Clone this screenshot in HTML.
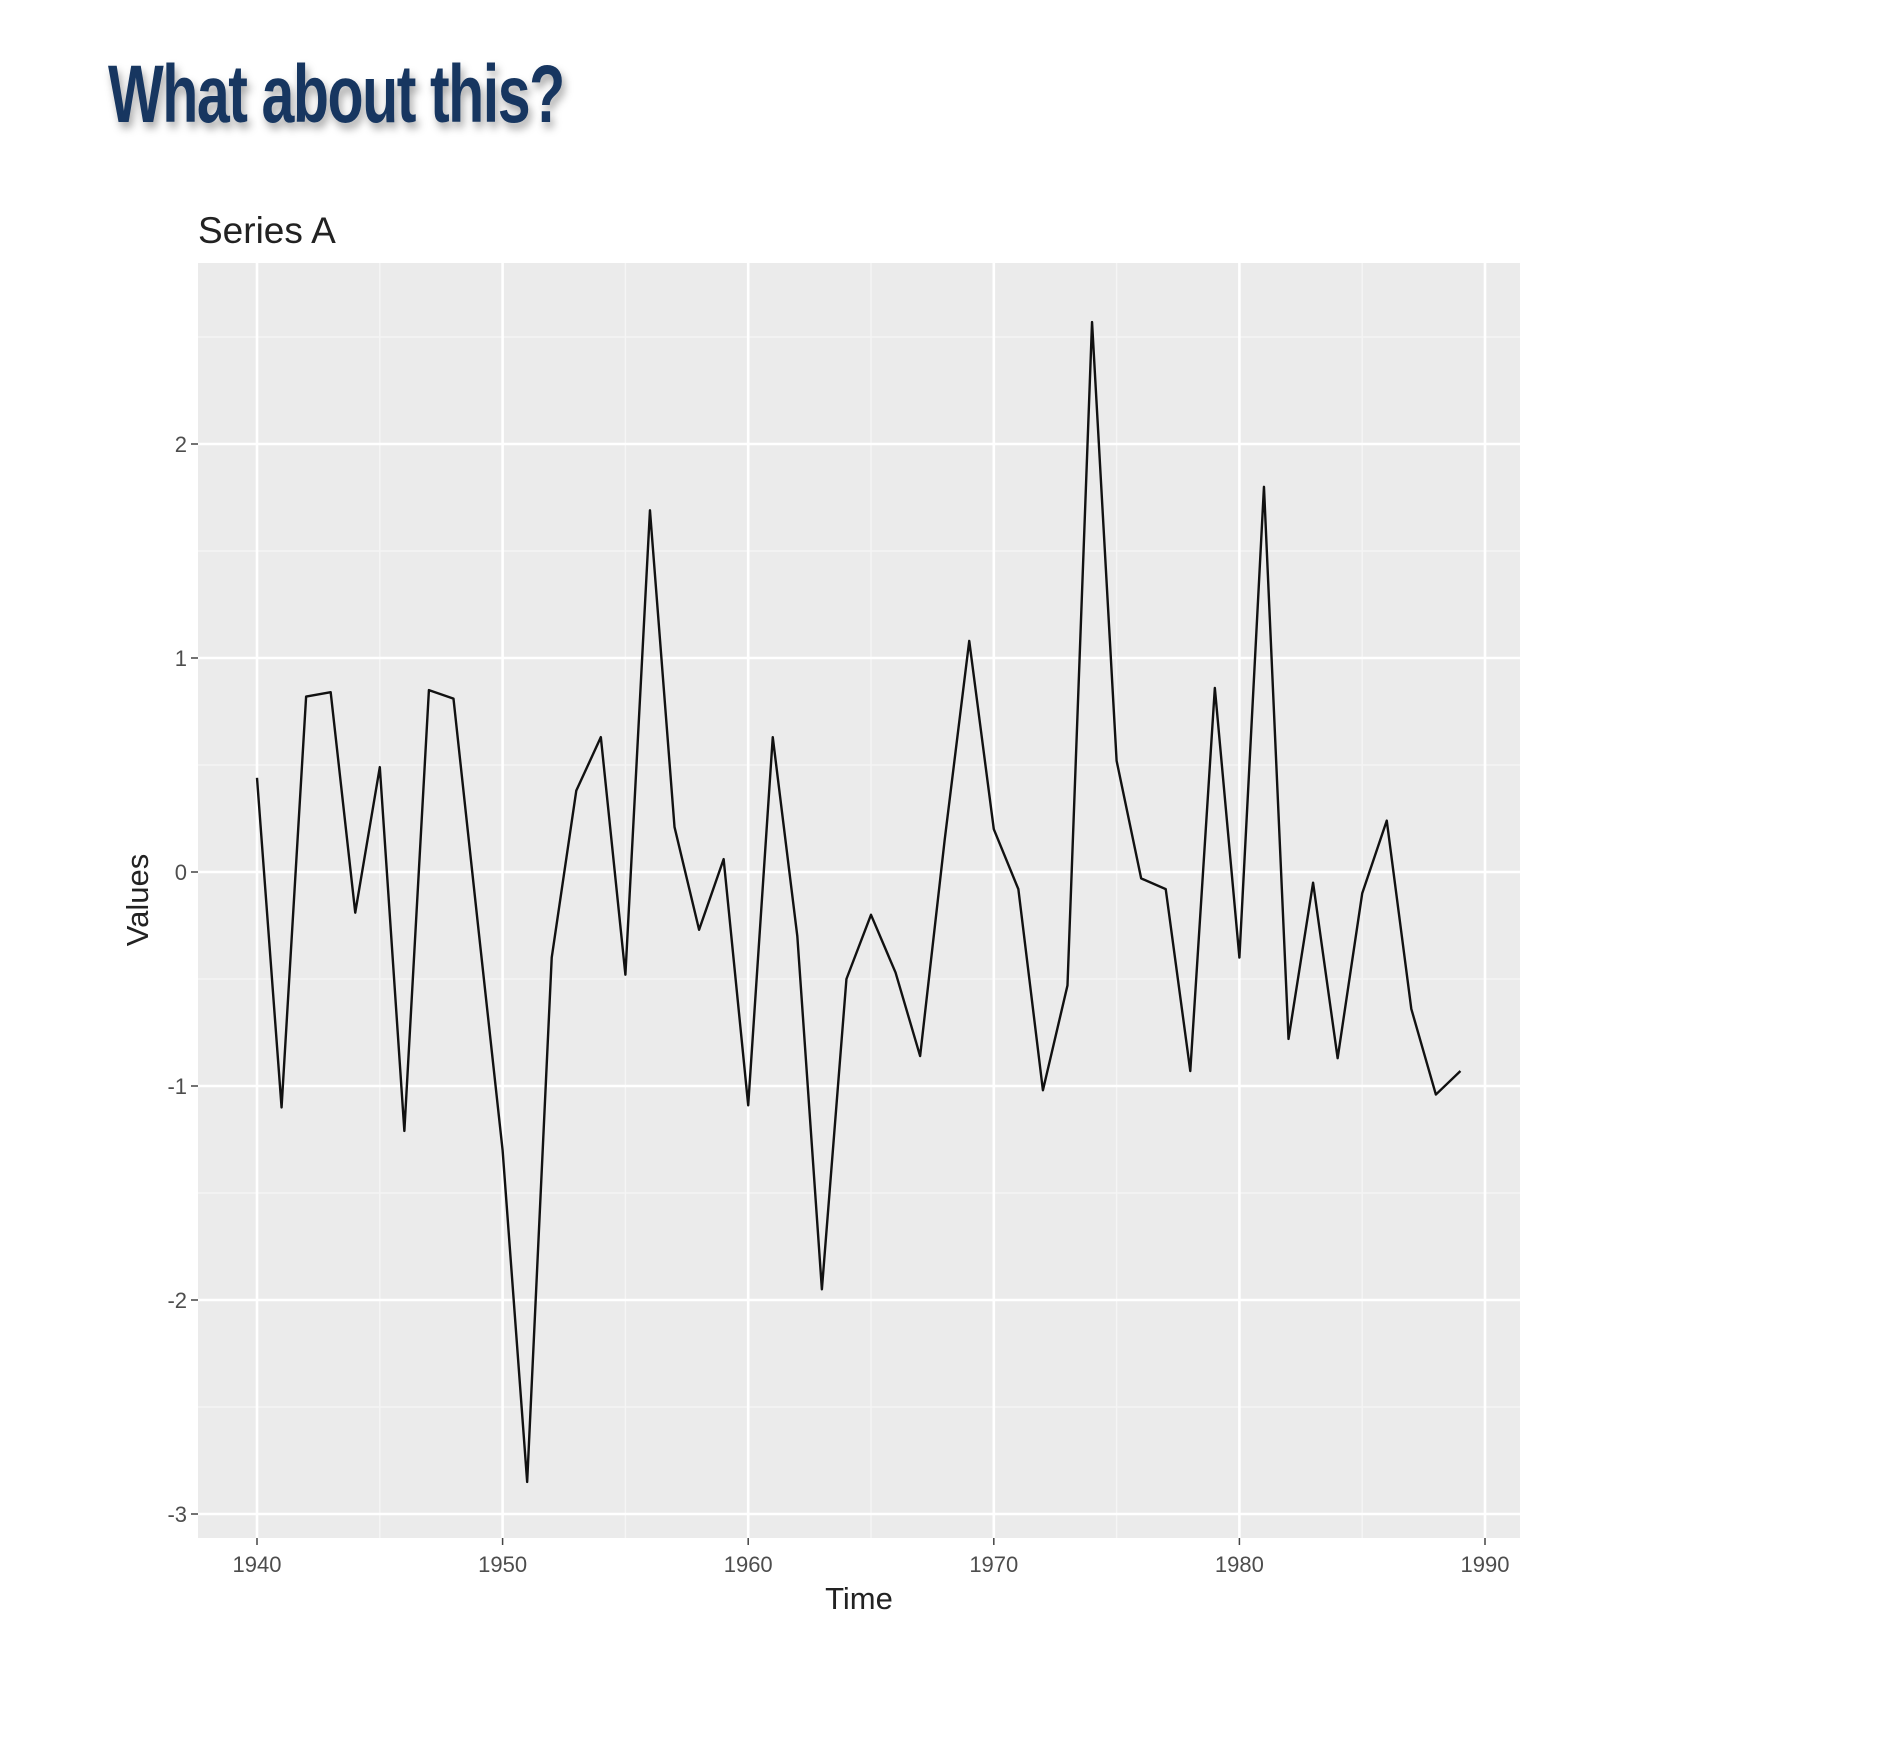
<!DOCTYPE html>
<html><head><meta charset="utf-8"><style>
body{margin:0;background:#fff;width:1877px;height:1737px;overflow:hidden;}
#hdr{position:absolute;left:108px;top:48px;font-family:"Liberation Sans Narrow","Liberation Sans",sans-serif;font-weight:bold;font-size:82px;color:#173660;letter-spacing:-2px;text-shadow:4px 6px 10px rgba(0,0,0,0.35);transform:scaleX(0.72);transform-origin:left top;white-space:nowrap;}
</style></head><body>
<div id="hdr">What about this?</div>
<svg id="chart" width="1877" height="1737" style="position:absolute;left:0;top:0"></svg>
<script>
const years=[1940,1941,1942,1943,1944,1945,1946,1947,1948,1949,1950,1951,1952,1953,1954,1955,1956,1957,1958,1959,1960,1961,1962,1963,1964,1965,1966,1967,1968,1969,1970,1971,1972,1973,1974,1975,1976,1977,1978,1979,1980,1981,1982,1983,1984,1985,1986,1987,1988,1989];
const values=[0.44,-1.1,0.82,0.84,-0.19,0.49,-1.21,0.85,0.81,-0.25,-1.3,-2.85,-0.4,0.38,0.63,-0.48,1.69,0.21,-0.27,0.06,-1.09,0.63,-0.3,-1.95,-0.5,-0.2,-0.47,-0.86,0.15,1.08,0.2,-0.08,-1.02,-0.53,2.57,0.52,-0.03,-0.08,-0.93,0.86,-0.4,1.8,-0.78,-0.05,-0.87,-0.1,0.24,-0.64,-1.04,-0.93];
const xTicks=[1940,1950,1960,1970,1980,1990];
const yTicks=[-3,-2,-1,0,1,2];
const NS="http://www.w3.org/2000/svg";
const svg=document.getElementById('chart');
const P={l:198,r:1520,t:263,b:1538};
const x=v=>257+(v-1940)*(1485-257)/50;
const y=v=>444+(2-v)*214;
function mk(t,a,parent){const e=document.createElementNS(NS,t);for(const k in a)e.setAttribute(k,a[k]);(parent||svg).appendChild(e);return e;}
const bg=mk('rect',{x:P.l,y:P.t,width:P.r-P.l,height:P.b-P.t,fill:'#ebebeb'});


for(let i=0;i<xTicks.length-1;i++){const xv=(xTicks[i]+xTicks[i+1])/2;const l=mk('line',{x1:x(xv),x2:x(xv),y1:P.t,y2:P.b,stroke:'#f5f5f5','stroke-width':1.3});

}
for(let v=-2.5;v<=2.5;v+=1){const l=mk('line',{x1:P.l,x2:P.r,y1:y(v),y2:y(v),stroke:'#f5f5f5','stroke-width':1.3});

}
xTicks.forEach(t=>{const l=mk('line',{x1:x(t),x2:x(t),y1:P.t,y2:P.b,stroke:'#fff','stroke-width':2.6});


mk('line',{x1:x(t),x2:x(t),y1:P.b,y2:P.b+7,stroke:'#444','stroke-width':1.5});
const tx=mk('text',{x:x(t),y:1572,'text-anchor':'middle','font-family':'Liberation Sans, sans-serif','font-size':22,fill:'#4d4d4d'});tx.textContent=t;

});
yTicks.forEach(t=>{const l=mk('line',{x1:P.l,x2:P.r,y1:y(t),y2:y(t),stroke:'#fff','stroke-width':2.6});


mk('line',{x1:P.l-7,x2:P.l,y1:y(t),y2:y(t),stroke:'#444','stroke-width':1.5});
const tx=mk('text',{x:P.l-11,y:y(t)+8,'text-anchor':'end','font-family':'Liberation Sans, sans-serif','font-size':22,fill:'#4d4d4d'});tx.textContent=t;

});
const line=mk('polyline',{points:years.map((yr,i)=>x(yr)+','+y(values[i])).join(' '),fill:'none',stroke:'#111','stroke-width':2.4,'stroke-linejoin':'round'});


const ti=mk('text',{x:198,y:243,'font-family':'Liberation Sans, sans-serif','font-size':37,fill:'#222'});ti.textContent='Series A';


const xt=mk('text',{x:859,y:1609,'text-anchor':'middle','font-family':'Liberation Sans, sans-serif','font-size':31,fill:'#222'});xt.textContent='Time';


const yt=mk('text',{x:0,y:0,'text-anchor':'middle','font-family':'Liberation Sans, sans-serif','font-size':31,fill:'#222',transform:'translate(148,900) rotate(-90)'});yt.textContent='Values';


</script>
</body></html>
